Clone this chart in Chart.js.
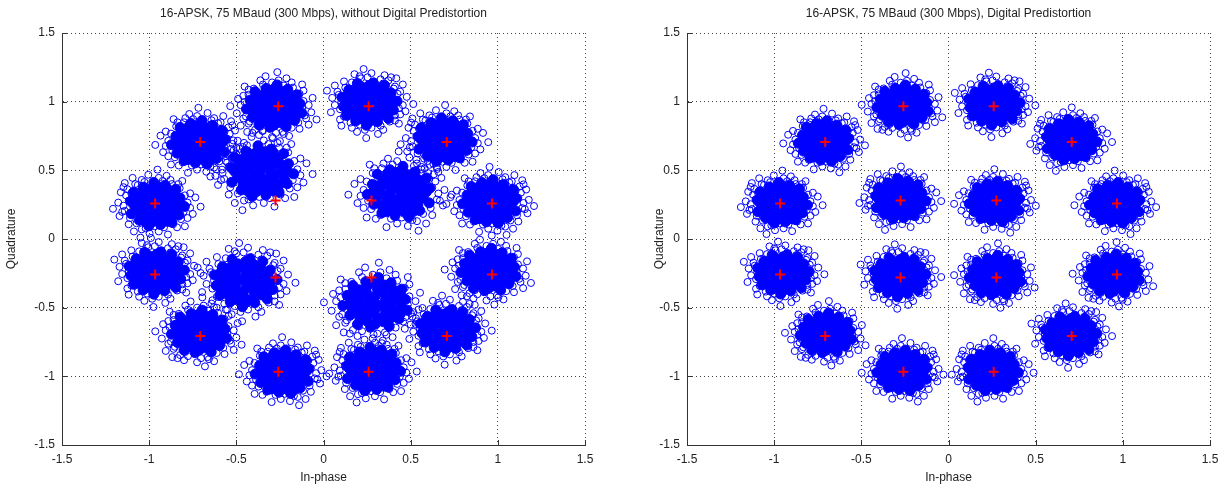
<!DOCTYPE html>
<html>
<head>
<meta charset="utf-8">
<script src="https://cdn.jsdelivr.net/npm/chart.js@4/dist/chart.umd.min.js"></script>
<style>
  html, body { margin: 0; padding: 0; background: #fff; }
  #wrap { position: relative; width: 1228px; height: 491px; }
  #wrap canvas { position: absolute; top: 0; }
</style>
</head>
<body>
<div id="wrap">
  <canvas id="leftChart" width="614" height="491" style="left:0"></canvas>
  <canvas id="rightChart" width="614" height="491" style="left:614px"></canvas>
</div>
<script>
// axis ticks
const tickValues = [-1.5, -1, -0.5, 0, 0.5, 1, 1.5];

// ideal 16-APSK symbols (red markers)
const idealI = [0.966, 0.707, 0.259, -0.259, -0.707, -0.966, -0.966, -0.707, -0.259, 0.259, 0.707, 0.966, 0.275, -0.275, -0.275, 0.275];
const idealQ = [0.259, 0.707, 0.966, 0.966, 0.707, 0.259, -0.259, -0.707, -0.966, -0.966, -0.707, -0.259, 0.28, 0.28, -0.28, -0.28];

// received cluster centres and spread
const rawI = [0.96, 0.69, 0.26, -0.28, -0.71, -0.96, -0.96, -0.71, -0.23, 0.28, 0.71, 0.95, 0.44, -0.36, -0.45, 0.30];
const rawQ = [0.27, 0.72, 0.99, 0.96, 0.70, 0.25, -0.24, -0.68, -0.97, -0.95, -0.66, -0.23, 0.34, 0.49, -0.31, -0.47];
const rawSpread = [0.15, 0.15, 0.15, 0.15, 0.15, 0.15, 0.15, 0.15, 0.15, 0.15, 0.15, 0.15, 0.175, 0.175, 0.17, 0.175];

const dpdI = [0.96, 0.70, 0.26, -0.26, -0.71, -0.96, -0.95, -0.70, -0.26, 0.25, 0.70, 0.95, 0.27, -0.28, -0.28, 0.27];
const dpdQ = [0.26, 0.72, 0.98, 0.97, 0.71, 0.26, -0.25, -0.69, -0.96, -0.96, -0.70, -0.26, 0.27, 0.29, -0.27, -0.27];
const dpdSpread = [0.14, 0.14, 0.14, 0.14, 0.14, 0.14, 0.14, 0.14, 0.14, 0.14, 0.14, 0.14, 0.14, 0.14, 0.14, 0.14];

// shape of one noise cloud, in units of the spread
const cloudCoreX = [-0.88, -0.62, -0.31, 0.02, 0.29, 0.58, 0.86, -0.74, -0.47, -0.16, 0.13, 0.44, 0.73, -0.77, -0.43, -0.14, 0.17, 0.46, 0.76, -0.57, -0.28, 0.01, 0.32, 0.6, -0.61, -0.31, -0.03, 0.27, 0.58, -0.41, -0.13, 0.16, 0.44, -0.45, -0.16, 0.14, 0.43,
    0.97, 0.86, 0.49, 0.09, -0.34, -0.75, -0.91, -1.08, -0.87, -0.6, -0.17, 0.28, 0.64, 0.95];
const cloudCoreY = [0.03, -0.05, 0.02, -0.01, 0.04, -0.03, 0.02, 0.27, 0.31, 0.26, 0.3, 0.25, 0.29, -0.29, -0.26, -0.31, -0.27, -0.3, -0.25, 0.55, 0.57, 0.53, 0.56, 0.52, -0.54, -0.57, -0.52, -0.56, -0.53, 0.8, 0.83, 0.79, 0.81, -0.81, -0.78, -0.83, -0.8,
    0.17, 0.6, 0.85, 1.08, 0.94, 0.75, 0.33, -0.09, -0.5, -0.85, -0.97, -1.03, -0.76, -0.44];
const cloudEdgeX = [1.05, 1.2, 0.95, 1.1, 0.7, 0.45, 0.1, -0.25, -0.6, -0.9, -1.1, -1.2, -1.05, -0.95, -0.65, -0.3, 0.05, 0.4, 0.75, 1.0, 1.45, 1.35, 0.9, 0.3, -0.4, -1.0, -1.5, -1.4, -1.1, -0.45, 0.25, 0.85, 1.4, 1.65, -0.05, -1.7, 0.6, 1.2,
    1.25, 1.15, 0.8, 0.55, -0.1, -0.55, -0.85, -1.3, -1.3, -1.2, -0.8, -0.1, 0.55, 1.05, 1.3, 1.25];
const cloudEdgeY = [0.2, -0.3, 0.55, 0.75, 0.95, 1.1, 1.05, 1.15, 1.0, 0.8, 0.45, 0.1, -0.35, -0.7, -0.95, -1.1, -1.05, -1.15, -0.9, -0.65, 0.1, 0.6, 1.3, 1.45, 1.4, 1.15, 0.35, -0.45, -1.05, -1.45, -1.4, -1.3, -0.55, -0.2, 1.7, -0.1, -1.6, 1.05,
    -0.05, 0.45, 1.0, 1.2, 1.3, 1.2, 1.0, 0.55, -0.15, -0.65, -1.1, -1.3, -1.2, -0.95, -0.35, 0.85];

const FONT = '"Liberation Sans", Arial, sans-serif';

function cloudPoints(ci, cq, spread, shapeX, shapeY) {
    const pts = [];
    ci.forEach((c, k) => {
        const v = k % 4;
        shapeX.forEach((dx, j) => {
            const dy = shapeY[j];
            let ox = dx, oy = dy;
            if (v === 1) { ox = -dx; }
            if (v === 2) { ox = dy; oy = dx; }
            if (v === 3) { ox = -dy; oy = -dx; }
            pts.push({ x: c + ox * spread[k], y: cq[k] + oy * spread[k] });
        });
    });
    return pts;
}

const overlay = {
    id: 'overlay',
    afterDraw(chart, args, opts) {
        const { ctx, chartArea: a, scales: { x, y } } = chart;
        ctx.save();
        ctx.strokeStyle = '#333';
        ctx.lineWidth = 1;
        x.ticks.forEach(t => {
            const px = Math.round(x.getPixelForValue(t.value)) + 0.5;
            ctx.beginPath(); ctx.moveTo(px, a.bottom); ctx.lineTo(px, a.bottom - 5); ctx.stroke();
        });
        y.ticks.forEach(t => {
            const py = Math.round(y.getPixelForValue(t.value)) + 0.5;
            ctx.beginPath(); ctx.moveTo(a.left, py); ctx.lineTo(a.left + 5, py); ctx.stroke();
        });
        ctx.fillStyle = '#222';
        ctx.font = '12px ' + FONT;
        ctx.textAlign = 'center';
        ctx.textBaseline = 'middle';
        ctx.fillText(opts.title, (a.left + a.right) / 2, 14);
        ctx.fillText('In-phase', (a.left + a.right) / 2, 478);
        ctx.translate(opts.yLabelX, (a.top + a.bottom) / 2);
        ctx.rotate(-Math.PI / 2);
        ctx.fillText('Quadrature', 0, 0);
        ctx.restore();
    }
};

function makeChart(id, title, ci, cq, spread, yWidth, padRight, yLabelX) {
    const ideal = idealI.map((v, i) => ({ x: v, y: idealQ[i] }));
    const axis = (isX) => ({
        type: 'linear',
        min: -1.5,
        max: 1.5,
        afterBuildTicks: (s) => { s.ticks = tickValues.map(v => ({ value: v })); },
        afterFit: (s) => { if (isX) { s.height = 46; } else { s.width = yWidth; } },
        ticks: {
            color: '#222',
            font: { family: FONT, size: 12 },
            padding: 7,
            maxRotation: 0,
            autoSkip: false,
            callback: (v) => String(v),
        },
        grid: { color: '#444', lineWidth: 1, drawTicks: false },
        border: { color: '#333', width: 1, dash: [1, 3] },
    });
    return new Chart(document.getElementById(id), {
        type: 'scatter',
        data: {
            datasets: [
                {
                    label: 'ideal',
                    data: ideal,
                    pointStyle: 'cross',
                    pointRadius: 5,
                    borderColor: '#ff0000',
                    borderWidth: 2,
                },
                {
                    label: 'received edge',
                    data: cloudPoints(ci, cq, spread, cloudEdgeX, cloudEdgeY),
                    pointStyle: 'circle',
                    pointRadius: 3.5,
                    borderColor: '#0000ff',
                    backgroundColor: 'rgba(0,0,0,0)',
                    borderWidth: 1,
                },
                {
                    label: 'received core',
                    data: cloudPoints(ci, cq, spread, cloudCoreX, cloudCoreY),
                    pointStyle: 'circle',
                    pointRadius: 5,
                    borderColor: '#0000ff',
                    backgroundColor: '#0000ff',
                    borderWidth: 1,
                },
            ],
        },
        options: {
            responsive: false,
            animation: false,
            devicePixelRatio: 1,
            layout: { padding: { top: 33, right: padRight, left: 0, bottom: 0 } },
            scales: { x: axis(true), y: axis(false) },
            plugins: {
                legend: { display: false },
                tooltip: { enabled: false },
                overlay: { title: title, yLabelX: yLabelX },
            },
        },
        plugins: [overlay],
    });
}

makeChart('leftChart', '16-APSK, 75 MBaud (300 Mbps), without Digital Predistortion',
    rawI, rawQ, rawSpread, 62, 29, 12);
makeChart('rightChart', '16-APSK, 75 MBaud (300 Mbps), Digital Predistortion',
    dpdI, dpdQ, dpdSpread, 73, 18, 46);
</script>
</body>
</html>
